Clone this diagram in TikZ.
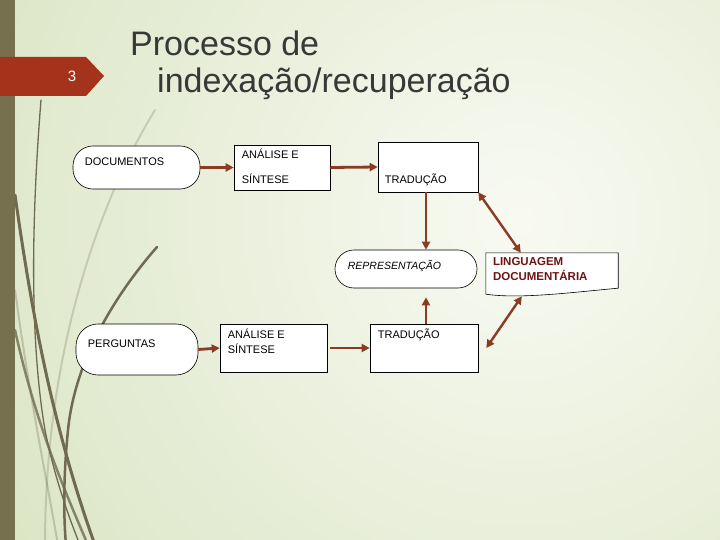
\documentclass[tikz,border=0pt]{standalone}
\usepackage{fontspec}
\setmainfont{Liberation Sans}
\usetikzlibrary{arrows.meta,calc}
\definecolor{bginner}{HTML}{F8FAF2}
\definecolor{bgouter}{HTML}{DAE4C3}
\definecolor{barcol}{HTML}{77704F}
\definecolor{tabcol}{HTML}{A5321B}
\definecolor{titlecol}{HTML}{383838}
\definecolor{arrcol}{HTML}{8B3B22}
\definecolor{lingcol}{HTML}{6E1414}
\definecolor{twig}{HTML}{6F6A50}
\begin{document}
\begin{tikzpicture}[x=1pt,y=-1pt,
  box/.style={draw=black, line width=0.6pt, fill=white, rectangle, inner sep=0pt},
  pill/.style={box, rounded corners=20pt},
  txt/.style={inner sep=0pt, anchor=base west, font=\fontsize{11}{13}\selectfont},
  flow/.style={draw=arrcol, line width=2.8pt, -{Triangle[length=8pt,width=8pt]}},
  dflow/.style={draw=arrcol, line width=2.4pt, {Triangle[length=8pt,width=8pt]}-{Triangle[length=8pt,width=8pt]}},
  twigline/.style={draw=twig, line cap=round}
]
\useasboundingbox (0,0) rectangle (720,540);
% background
\begin{scope}
  \clip (0,0) rectangle (720,540);
  \shade[inner color=bginner, outer color=bgouter] (520,220) circle (640);
  % decorative twigs
  \draw[twigline, line width=1.3pt] (41,100) .. controls (33,200) and (28,330) .. (45,430) .. controls (55,480) and (70,520) .. (80,545);
  \draw[twigline, line width=3pt] (15,195) .. controls (30,300) and (50,420) .. (95,545);
  \draw[twigline, line width=2.5pt] (157,247) .. controls (115,295) and (75,360) .. (68,430) .. controls (64,470) and (63,510) .. (66,545);
  \draw[twigline, line width=2pt, opacity=0.25] (155,110) .. controls (100,200) and (45,350) .. (45,545);
  \draw[twigline, line width=2pt, opacity=0.3] (15,290) .. controls (30,400) and (45,470) .. (58,545);
  \draw[twigline, line width=2.5pt, opacity=0.8] (15,330) .. controls (35,420) and (60,480) .. (88,545);
\end{scope}
% left bar
\fill[barcol] (0,0) rectangle (15,540);
% tab
\fill[tabcol] (0,57) -- (86,57) -- (104,76) -- (86,96) -- (0,96) -- cycle;
\node[text=white, font=\fontsize{15}{17}\selectfont, inner sep=0pt] (num) at (72,76) {3};
% title
\node[inner sep=0pt, anchor=base west, text=titlecol, font=\fontsize{34}{38}\selectfont] (title1) at (130,56) {Processo de};
\node[inner sep=0pt, anchor=base west, text=titlecol, font=\fontsize{34}{38}\selectfont] (title2) at (157,93) {indexação/recuperação};

% top row
\node[pill, minimum width=127pt, minimum height=43pt] (doc) at (136.5,167.5) {};
\node[txt] (docT) at ($(doc.north west)+(12,20)$) {DOCUMENTOS};
\node[box, minimum width=96pt, minimum height=45pt] (a1) at (282,167.5) {};
\node[txt] (a1T1) at ($(a1.north west)+(8,14)$) {ANÁLISE E};
\node[txt] (a1T2) at ($(a1.north west)+(8,39)$) {SÍNTESE};
\node[box, minimum width=100pt, minimum height=50pt] (t1) at (428,167) {};
\node[txt] (t1T) at ($(t1.north west)+(7,42)$) {TRADUÇÃO};

% middle
\node[box, rounded corners=19pt, minimum width=142pt, minimum height=38pt] (rep) at (406,269) {};
\node[txt, font=\fontsize{10.5}{13}\selectfont\itshape] (repT) at ($(rep.north west)+(13,20)$) {REPRESENTAÇÃO};
\node[minimum width=132pt, minimum height=35pt, inner sep=0pt] (ling) at (552,270.5) {};
\draw[line width=0.6pt, fill=white] (ling.north west) -- (ling.north east) -- (ling.south east)
  .. controls ($(ling.south east)+(-45,4)$) and ($(ling.south west)+(35,11)$) .. ($(ling.south west)+(0,6)$) -- cycle;
\node[txt, font=\fontsize{11.5}{13}\selectfont\bfseries, text=lingcol] (lingT1) at ($(ling.north west)+(7,13)$) {LINGUAGEM};
\node[txt, font=\fontsize{11.5}{13}\selectfont\bfseries, text=lingcol] (lingT2) at ($(ling.north west)+(7,28)$) {DOCUMENTÁRIA};

% bottom row
\node[pill, rounded corners=22pt, minimum width=122pt, minimum height=51pt] (perg) at (137,349.5) {};
\node[txt] (pergT) at ($(perg.north west)+(12,24)$) {PERGUNTAS};
\node[box, minimum width=107pt, minimum height=48pt] (a2) at (273.5,348) {};
\node[txt] (a2T1) at ($(a2.north west)+(8,15)$) {ANÁLISE E};
\node[txt] (a2T2) at ($(a2.north west)+(8,30)$) {SÍNTESE};
\node[box, minimum width=108pt, minimum height=48pt] (t2) at (424,348) {};
\node[txt] (t2T) at ($(t2.north west)+(8,15)$) {TRADUÇÃO};

% connectors
\draw[flow] (doc.east) -- (a1.west);
\draw[flow] (a1.east) -- (t1.west);
\draw[flow] ($(t1.south)+(-2,0)$) -- ($(t1.south |- rep.north)+(-2,0)$);
\draw[flow] ($(t2.north)+(2,0)$) -- ($(t2.north |- rep.south)+(2,9)$);
\draw[flow] (perg.east) -- (a2.west);
\draw[flow] ($(a2.east)+(3,0)$) -- (t2.west);
\draw[dflow] (t1.south east) -- ($(ling.north west)+(35,0)$);
\draw[dflow] ($(ling.south west)+(36,8)$) -- ($(t2.east)+(8,0)$);
\end{tikzpicture}
\end{document}
